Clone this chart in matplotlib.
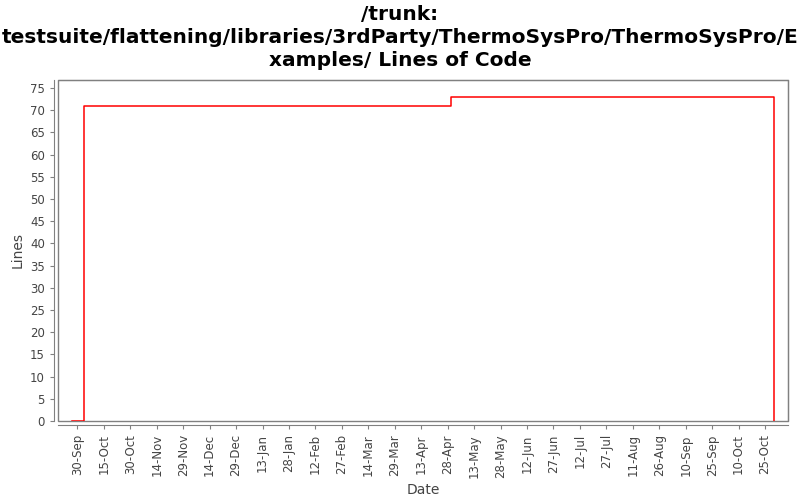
import datetime as dt
import matplotlib
matplotlib.use("Agg")
import matplotlib.pyplot as plt
import matplotlib.dates as mdates
from matplotlib.patches import Rectangle

# data
dates = ["2010-09-27", "2010-10-04", "2011-04-30", "2011-10-30"]
lines = [0, 71, 73, 0]

tick_dates = ["2010-09-30", "2010-10-15", "2010-10-30", "2010-11-14", "2010-11-29",
              "2010-12-14", "2010-12-29", "2011-01-13", "2011-01-28", "2011-02-12",
              "2011-02-27", "2011-03-14", "2011-03-29", "2011-04-13", "2011-04-28",
              "2011-05-13", "2011-05-28", "2011-06-12", "2011-06-27", "2011-07-12",
              "2011-07-27", "2011-08-11", "2011-08-26", "2011-09-10", "2011-09-25",
              "2011-10-10", "2011-10-25"]

title = ("/trunk:\ntestsuite/flattening/libraries/3rdParty/ThermoSysPro/ThermoSysPro/E\n"
         "xamples/ Lines of Code")

x = [dt.datetime.strptime(d, "%Y-%m-%d") for d in dates]
xt = [dt.datetime.strptime(d, "%Y-%m-%d") for d in tick_dates]

fig = plt.figure(figsize=(8, 5), dpi=100)
ax = fig.add_axes([0.0725, 0.158, 0.9125, 0.682])

ax.step(x, lines, where="post", color="red", linewidth=1.1)

ax.set_xlim(dt.datetime(2010, 9, 19), dt.datetime(2011, 11, 7))
ax.set_ylim(0, 76.8)
ax.set_yticks(range(0, 80, 5))
ax.set_xticks(xt)
ax.xaxis.set_major_formatter(mdates.DateFormatter("%d-%b"))

grey = "#808080"
for side in ["top", "right", "left", "bottom"]:
    ax.spines[side].set_color(grey)
ax.spines["left"].set_position(("outward", 3))
ax.spines["bottom"].set_position(("outward", 3))
# plot-area border (left/bottom edges, axes lines sit a bit outside)
ax.add_patch(Rectangle((0, 0), 1, 1, transform=ax.transAxes, fill=False,
                       edgecolor=grey, linewidth=1, clip_on=False, zorder=0))

ax.tick_params(axis="both", colors=grey, labelcolor="#444444", labelsize=8.5, length=3)
ax.tick_params(axis="x", rotation=90)

ax.set_xlabel("Date", fontsize=10, color="#444444")
ax.set_ylabel("Lines", fontsize=10, color="#444444")

fig.text(0.5, 0.99, title, ha="center", va="top", fontsize=14.5,
         fontweight="bold", linespacing=1.25)

fig.savefig("out.png", dpi=100)
